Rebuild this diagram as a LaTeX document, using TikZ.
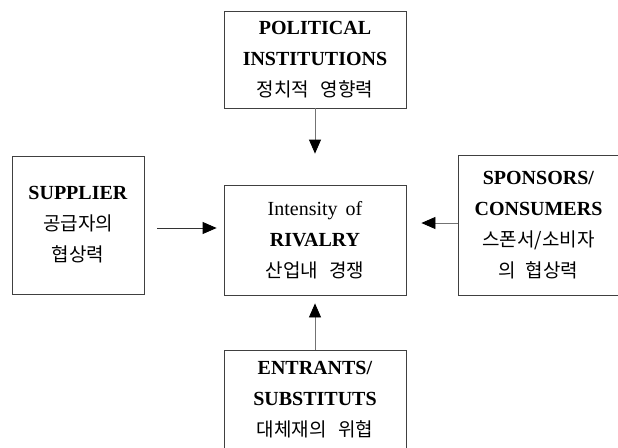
\documentclass[tikz,border=0pt]{standalone}
\usepackage{fontspec}
\setmainfont{Liberation Serif}
\newfontfamily\kr{Noto Sans CJK KR}
\usetikzlibrary{positioning,calc,arrows,arrows.meta}
\newcommand{\krline}[1]{{\kr\fontsize{19}{31}\selectfont #1}}

\begin{document}
\begin{tikzpicture}[x=1pt, y=-1pt]
	\useasboundingbox (0, 0) rectangle (618, 447);
	\begin{scope}
		\tikzstyle{every node}=[align=center, inner sep=1pt, draw=black!75, line width=0.8pt, font=\fontsize{20}{31}\selectfont]
		\node[minimum width=182pt, minimum height=97pt] (pol) at (315, 59.5) {\textbf{POLITICAL} \\ \textbf{INSTITUTIONS} \\ \krline{정치적\hspace{0.6em}영향력}};
		\node[minimum width=182pt, minimum height=110pt] (riv) at (315, 240) {Intensity\hspace{0.4em}of \\ \textbf{RIVALRY} \\ \krline{산업내\hspace{0.6em}경쟁}};

		\node[minimum width=132pt, minimum height=138pt] (sup) at (78, 225) {\textbf{SUPPLIER} \\ \krline{공급자의} \\ \krline{협상력}};
		\node[minimum width=161pt, minimum height=140pt] (spo) at (538.5, 225) {\textbf{SPONSORS/} \\ \textbf{CONSUMERS} \\ \krline{스폰서/소비자} \\ \krline{의\hspace{0.5em}협상력}};

		\node[minimum width=182pt, minimum height=100pt] (ent) at (315, 400) {\textbf{ENTRANTS/} \\ \textbf{SUBSTITUTS} \\ \krline{대체재의\hspace{0.6em}위협}};

		\draw[->, >={Triangle[length=14pt, width=12pt, black]}, black!55, line width=0.8pt, shorten >=31pt](pol) -- (riv);
		\draw[->, >={Triangle[length=14pt, width=12pt, black]}, black!55, line width=0.8pt, shorten >=8pt](ent) -- (riv);
		\draw[->, >={Triangle[length=14pt, width=12pt, black]}, black!80, line width=0.8pt, shorten <=13pt, shorten >=7pt]($(sup.east)+(0,3)$) -- ($(sup.east -| riv.west)+(0,3)$);
		\draw[->, >={Triangle[length=14pt, width=12pt, black]}, black!55, line width=0.8pt, shorten >=15pt]($(spo.west)+(0,-2)$) -- ($(spo.west -| riv.east)+(0,-2)$);
	\end{scope}
\end{tikzpicture}
\end{document}
